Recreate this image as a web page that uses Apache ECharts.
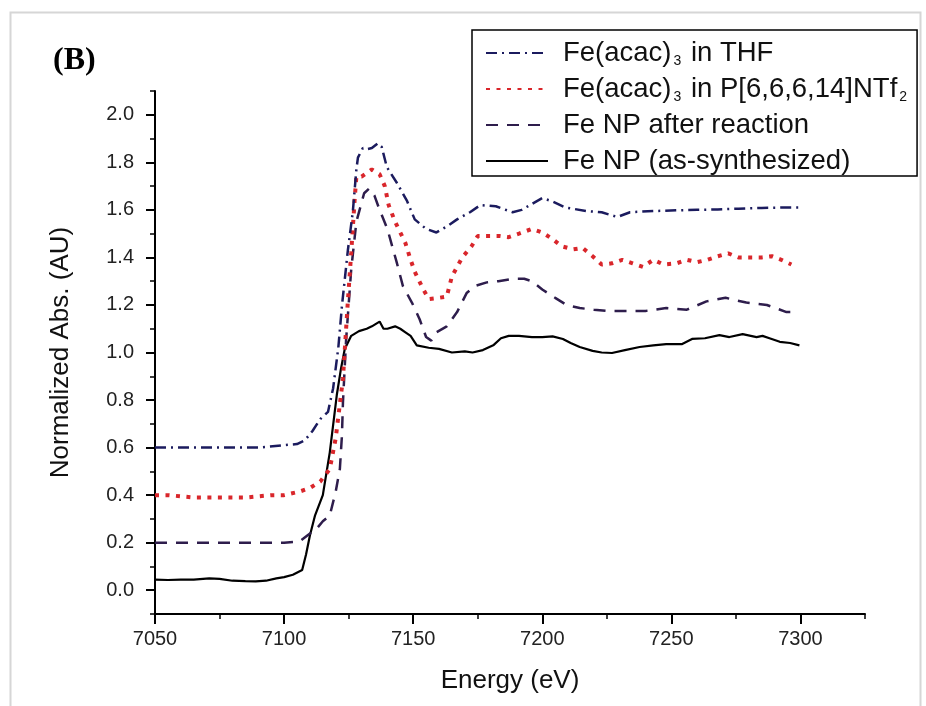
<!DOCTYPE html>
<html>
<head>
<meta charset="utf-8">
<script src="https://cdn.jsdelivr.net/npm/echarts@6/dist/echarts.min.js"></script>
<style>
  html, body { margin: 0; padding: 0; background: #ffffff; }
  #chart { width: 926px; height: 706px; }
</style>
</head>
<body>
<div id="chart"></div>
<script>
// Fe K-edge XANES spectra, normalized absorption vs. photon energy

const seriesNames = [
  'Fe(acac)3 in THF',
  'Fe(acac)3 in P[6,6,6,14]NTf2',
  'Fe NP after reaction',
  'Fe NP (as-synthesized)'
];

// Fe(acac)3 in THF (offset +0.6)
const thfEnergy = [7050, 7060, 7070, 7080, 7090, 7100, 7105, 7108, 7111, 7114, 7117, 7119, 7121, 7122.4, 7124.7, 7126.6, 7128, 7128.6, 7130.5, 7132, 7134, 7136.3, 7137.8, 7139.8, 7143.6, 7147.5, 7150.6, 7155, 7159, 7163, 7167, 7172, 7176, 7182, 7188.5, 7192, 7196, 7200, 7204, 7209, 7217, 7223, 7229, 7234, 7243, 7252, 7260, 7268, 7276, 7285, 7295, 7300];
const thfAbs = [0.60, 0.60, 0.60, 0.60, 0.60, 0.61, 0.615, 0.63, 0.67, 0.72, 0.75, 0.85, 1.02, 1.195, 1.43, 1.59, 1.77, 1.82, 1.86, 1.855, 1.86, 1.88, 1.865, 1.78, 1.715, 1.64, 1.56, 1.52, 1.505, 1.53, 1.56, 1.59, 1.62, 1.615, 1.59, 1.60, 1.625, 1.65, 1.635, 1.61, 1.595, 1.59, 1.57, 1.59, 1.595, 1.598, 1.60, 1.602, 1.605, 1.608, 1.61, 1.61];

// Fe(acac)3 in P[6,6,6,14]NTf2 (offset +0.4)
const ilEnergy = [7050, 7055, 7060, 7065, 7070, 7075, 7080, 7085, 7090, 7095, 7100, 7106, 7110, 7114, 7117.7, 7120, 7122.8, 7124.7, 7126, 7127.4, 7128, 7130, 7134, 7137, 7139, 7140.5, 7143, 7147, 7149, 7150.6, 7153.7, 7156, 7160, 7163, 7165, 7169, 7172.6, 7175, 7179.6, 7183.5, 7187, 7191, 7196, 7200, 7203.6, 7207.5, 7212, 7215.6, 7219.5, 7223, 7227, 7231, 7235, 7239, 7243, 7247, 7252, 7256, 7260, 7264, 7268, 7272, 7276, 7280, 7285, 7289, 7292.6, 7296.5];
const ilAbs = [0.40, 0.40, 0.395, 0.39, 0.39, 0.39, 0.39, 0.39, 0.395, 0.40, 0.40, 0.415, 0.43, 0.457, 0.51, 0.64, 0.89, 1.215, 1.42, 1.655, 1.74, 1.74, 1.77, 1.75, 1.70, 1.62, 1.55, 1.46, 1.39, 1.34, 1.27, 1.225, 1.23, 1.235, 1.32, 1.40, 1.447, 1.49, 1.49, 1.49, 1.485, 1.50, 1.52, 1.505, 1.48, 1.447, 1.434, 1.44, 1.405, 1.37, 1.375, 1.39, 1.375, 1.36, 1.39, 1.37, 1.375, 1.39, 1.38, 1.39, 1.405, 1.417, 1.40, 1.40, 1.40, 1.405, 1.39, 1.37];

// Fe NP after reaction (offset +0.2)
const npAfterEnergy = [7050, 7060, 7070, 7080, 7090, 7100, 7106, 7109, 7112.7, 7115, 7117.7, 7120, 7121.6, 7122.4, 7122.8, 7124, 7126, 7128, 7131, 7133, 7135, 7137, 7140, 7143.6, 7146, 7149.5, 7152.5, 7155, 7157, 7159, 7163, 7167, 7170.7, 7174, 7178.5, 7183, 7188.5, 7193, 7196, 7200, 7205, 7209.4, 7214.5, 7220, 7225, 7232, 7240, 7248, 7256, 7263.6, 7271, 7279, 7287, 7294.6, 7298];
const npAfterAbs = [0.20, 0.20, 0.20, 0.20, 0.20, 0.20, 0.205, 0.23, 0.26, 0.29, 0.315, 0.415, 0.51, 0.65, 0.79, 1.05, 1.35, 1.55, 1.67, 1.69, 1.66, 1.60, 1.52, 1.38, 1.28, 1.21, 1.14, 1.065, 1.05, 1.085, 1.11, 1.17, 1.25, 1.28, 1.295, 1.30, 1.31, 1.31, 1.30, 1.265, 1.23, 1.20, 1.187, 1.18, 1.175, 1.175, 1.175, 1.187, 1.18, 1.215, 1.23, 1.21, 1.20, 1.17, 1.17];

// Fe NP as-synthesized (no offset)
const npSynEnergy = [7050, 7055, 7060, 7065, 7071, 7075, 7080, 7085, 7089, 7093, 7097, 7100, 7103.4, 7107, 7108.5, 7110, 7112, 7115, 7117.7, 7120.4, 7122, 7123.5, 7126, 7129, 7132, 7134, 7137, 7138.5, 7140, 7143, 7145, 7147, 7149, 7151.4, 7156, 7160, 7165, 7170, 7173, 7177, 7181, 7184, 7187, 7191, 7196, 7200, 7204, 7208, 7211, 7214.5, 7219.5, 7223, 7227, 7232, 7237.7, 7243, 7248, 7254, 7258, 7263, 7268.6, 7272.5, 7277.6, 7283, 7285.3, 7288, 7292, 7296, 7299.6];
const npSynAbs = [0.045, 0.043, 0.045, 0.045, 0.05, 0.048, 0.04, 0.038, 0.037, 0.04, 0.05, 0.055, 0.065, 0.085, 0.15, 0.23, 0.315, 0.40, 0.58, 0.82, 0.93, 1.015, 1.07, 1.09, 1.10, 1.11, 1.13, 1.10, 1.10, 1.11, 1.10, 1.085, 1.07, 1.03, 1.02, 1.015, 1.00, 1.005, 1.00, 1.01, 1.03, 1.06, 1.07, 1.07, 1.065, 1.065, 1.068, 1.057, 1.04, 1.023, 1.007, 1.0, 0.998, 1.01, 1.023, 1.03, 1.035, 1.035, 1.057, 1.06, 1.073, 1.065, 1.077, 1.065, 1.07, 1.06, 1.045, 1.04, 1.03];

// Axis ticks
const xTicks = [7050, 7100, 7150, 7200, 7250, 7300];
const xMinorTicks = [7075, 7125, 7175, 7225, 7275, 7325];
const yTicks = [0.0, 0.2, 0.4, 0.6, 0.8, 1.0, 1.2, 1.4, 1.6, 1.8, 2.0];
const yMinorTicks = [-0.1, 0.1, 0.3, 0.5, 0.7, 0.9, 1.1, 1.3, 1.5, 1.7, 1.9, 2.1];

function pairs(xs, ys) {
  return xs.map((x, i) => [x, ys[i]]);
}

const chart = echarts.init(document.getElementById('chart'), null, { renderer: 'canvas' });

const FONT = '"Liberation Sans", Arial, sans-serif';
const X_MIN = 7050, X_MAX = 7325, Y_MIN = -0.1, Y_MAX = 2.1;

const option = {
  backgroundColor: '#ffffff',
  animation: false,
  title: {
    text: '(B)',
    left: 48,
    top: 40,
    textStyle: {
      fontFamily: '"Liberation Serif", "Times New Roman", serif',
      fontWeight: 'bold',
      fontSize: 32,
      color: '#000'
    }
  },
  graphic: [{
    type: 'rect',
    left: 8, top: 10,
    shape: { width: 910, height: 700 },
    style: { fill: 'none', stroke: '#d6d6d6', lineWidth: 2 },
    silent: true,
    z: -1
  }],
  legend: {
    orient: 'vertical',
    left: 472,
    top: 30,
    padding: [8, 8, 0, 13],
    itemGap: 6,
    itemWidth: 62,
    itemHeight: 14,
    backgroundColor: '#ffffff',
    borderColor: '#000',
    borderWidth: 1.5,
    data: seriesNames,
    itemStyle: { opacity: 0 },
    formatter: name => name.replace(/\)3/, '){s|3}').replace(/NTf2/, 'NTf{s|2}'),
    textStyle: {
      fontFamily: FONT,
      fontSize: 27.5,
      lineHeight: 30,
      color: '#111',
      padding: [0, 0, 0, 10],
      rich: {
        s: { fontFamily: FONT, fontSize: 14, color: '#111', padding: [16, 2, 0, 2] }
      }
    }
  },
  grid: { left: 155, right: 61, top: 91, bottom: 92 },
  xAxis: [{
    type: 'value',
    min: X_MIN, max: X_MAX, interval: 50,
    name: 'Energy (eV)',
    nameLocation: 'middle',
    nameGap: 54,
    nameTextStyle: { fontFamily: FONT, fontSize: 26, color: '#111' },
    axisLine: { show: true, onZero: false, lineStyle: { color: '#000', width: 2 } },
    axisTick: { show: true, inside: false, length: 10, lineStyle: { color: '#000', width: 2 }, customValues: xTicks },
    axisLabel: {
      fontFamily: FONT, fontSize: 20, color: '#222', margin: 15,
      customValues: xTicks,
      formatter: v => String(v)
    },
    splitLine: { show: false }
  }, {
    type: 'value',
    position: 'bottom',
    min: X_MIN, max: X_MAX,
    axisLine: { show: false, onZero: false },
    axisTick: { show: true, inside: false, length: 5, lineStyle: { color: '#000', width: 1.5 }, customValues: xMinorTicks },
    axisLabel: { show: false },
    splitLine: { show: false }
  }],
  yAxis: [{
    type: 'value',
    min: Y_MIN, max: Y_MAX,
    name: 'Normalized Abs. (AU)',
    nameLocation: 'middle',
    nameGap: 81,
    nameTextStyle: { fontFamily: FONT, fontSize: 26, color: '#111' },
    axisLine: { show: true, onZero: false, lineStyle: { color: '#000', width: 2 } },
    axisTick: { show: true, inside: false, length: 9, lineStyle: { color: '#000', width: 2 }, customValues: yTicks },
    axisLabel: {
      fontFamily: FONT, fontSize: 20, color: '#222', margin: 21,
      customValues: yTicks,
      formatter: v => v.toFixed(1)
    },
    splitLine: { show: false }
  }, {
    type: 'value',
    position: 'left',
    min: Y_MIN, max: Y_MAX,
    axisLine: { show: false, onZero: false },
    axisTick: { show: true, inside: false, length: 5, lineStyle: { color: '#000', width: 1.5 }, customValues: yMinorTicks },
    axisLabel: { show: false },
    splitLine: { show: false }
  }],
  series: [
    {
      name: seriesNames[3],
      type: 'line',
      data: pairs(npSynEnergy, npSynAbs),
      showSymbol: false, symbol: 'none',
      lineStyle: { color: '#000000', width: 2.2, type: 'solid' },
      itemStyle: { color: '#000000' },
      z: 2
    },
    {
      name: seriesNames[2],
      type: 'line',
      data: pairs(npAfterEnergy, npAfterAbs),
      showSymbol: false, symbol: 'none',
      lineStyle: { color: '#2e1d4c', width: 2.5, type: [12, 9] },
      itemStyle: { color: '#2e1d4c' },
      z: 3
    },
    {
      name: seriesNames[1],
      type: 'line',
      data: pairs(ilEnergy, ilAbs),
      showSymbol: false, symbol: 'none',
      lineStyle: { color: '#d9262b', width: 4, type: [4, 6.5] },
      itemStyle: { color: '#d9262b' },
      z: 4
    },
    {
      name: seriesNames[0],
      type: 'line',
      data: pairs(thfEnergy, thfAbs),
      showSymbol: false, symbol: 'none',
      lineStyle: { color: '#1b1b5e', width: 2.5, type: [11, 5, 2, 5] },
      itemStyle: { color: '#1b1b5e' },
      z: 5
    }
  ]
};

chart.setOption(option);
</script>
</body>
</html>
